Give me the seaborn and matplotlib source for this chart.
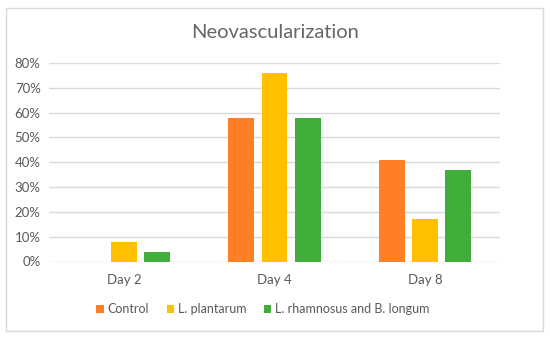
import pandas as pd
import matplotlib.pyplot as plt
import seaborn as sns
from matplotlib.patches import Rectangle
from matplotlib.ticker import PercentFormatter

days = ['Day 2', 'Day 4', 'Day 8']
groups = ['Control', 'L. plantarum', 'L. rhamnosus and B. longum']
control = [0.0, 0.58, 0.41]
plantarum = [0.08, 0.76, 0.17]
rhamnosus = [0.04, 0.58, 0.37]
colors = ['#FF7F27', '#FFC000', '#41AD3B']

df = pd.DataFrame({
    'day': days * 3,
    'group': [g for g in groups for _ in days],
    'value': control + plantarum + rhamnosus,
})

sns.set_style('white')
plt.rcParams['font.family'] = ['Lato', 'DejaVu Sans']

fig = plt.figure(figsize=(5.5, 3.39), dpi=100)
fig.patches.append(Rectangle((6 / 550, 1 - 331 / 339), 537 / 550, 323 / 339,
                             transform=fig.transFigure, fill=False,
                             edgecolor='#D9D9D9', linewidth=1))
ax = fig.add_axes([49 / 550, 1 - 261.5 / 339, 451 / 550, 198.5 / 339])

sns.barplot(data=df, x='day', y='value', hue='group', hue_order=groups,
            palette=colors, width=0.665, gap=0.22, saturation=1,
            linewidth=0, ax=ax)

ax.set_ylim(0, 0.8)
ax.set_yticks([i / 10 for i in range(9)])
ax.yaxis.set_major_formatter(PercentFormatter(1.0, decimals=0))
ax.grid(axis='y', color='#D9D9D9', linewidth=1)
ax.set_axisbelow(True)
for s in ax.spines.values():
    s.set_visible(False)
ax.set_xlabel('')
ax.set_ylabel('')
ax.tick_params(axis='both', length=0, labelsize=9.5, labelcolor='#595959')
ax.tick_params(axis='x', pad=9)
ax.tick_params(axis='y', pad=6)

fig.text(0.5, 1 - 33 / 339, 'Neovascularization', ha='center', va='center',
         fontsize=14.5, color='#666666')

ax.legend(loc='center', bbox_to_anchor=(263 / 550, 1 - 309 / 339),
          bbox_transform=fig.transFigure, ncol=3, frameon=False,
          fontsize=9, labelcolor='#595959', handlelength=0.6,
          handleheight=0.6, handletextpad=0.3, columnspacing=1.4)

fig.savefig('out.png', dpi=100)
